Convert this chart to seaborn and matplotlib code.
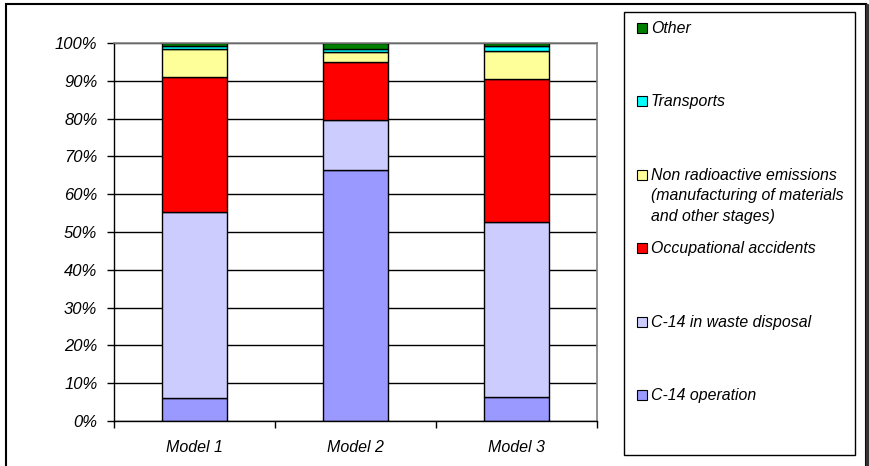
import matplotlib.pyplot as plt
import matplotlib.patches as mpatches
import numpy as np
import seaborn as sns

models = ['Model 1', 'Model 2', 'Model 3']
categories = ['C-14 operation', 'C-14 in waste disposal', 'Occupational accidents',
              'Non radioactive emissions\n(manufacturing of materials\nand other stages)',
              'Transports', 'Other']
c14_operation = [6.2, 66.3, 6.4]
c14_waste = [49.2, 13.3, 46.3]
occupational = [35.7, 15.3, 37.7]
non_radioactive = [7.3, 2.6, 7.5]
transports = [0.9, 0.8, 1.4]
other = [0.7, 1.7, 0.7]
colors = ['#9999FF', '#CCCCFF', '#FF0000', '#FFFF99', '#00FFFF', '#008000']

W, H = 869, 466


def fx(px):
    return px / W


def fy(py):
    return 1 - py / H


sns.set_style('white')
plt.rcParams['font.family'] = ['Liberation Sans', 'DejaVu Sans']
plt.rcParams['font.style'] = 'italic'
plt.rcParams['font.size'] = 11
for key in ['text.color', 'axes.labelcolor', 'xtick.color', 'ytick.color']:
    plt.rcParams[key] = 'black'

fig = plt.figure(figsize=(8.69, 4.66), dpi=100)
ax = fig.add_axes([fx(114), fy(421), fx(597) - fx(114), fy(43) - fy(421)])

series = [c14_operation, c14_waste, occupational, non_radioactive, transports, other]
bottom = np.zeros(len(models))
for name, vals, col in zip(categories, series, colors):
    sns.barplot(x=models, y=vals, bottom=bottom, color=col, saturation=1, width=0.4,
                edgecolor='black', linewidth=1, ax=ax)
    bottom = bottom + np.array(vals)

ax.set_xlim(-0.5, 2.5)
ax.set_ylim(0, 100)
ax.set_yticks(range(0, 101, 10))
ax.set_yticklabels([f'{v}%' for v in range(0, 101, 10)], fontsize=12)
ax.yaxis.grid(True, color='black', linewidth=1)
ax.set_axisbelow(True)
ax.set_xlabel('')
ax.set_ylabel('')
ax.tick_params(axis='y', left=True, length=5, width=1, pad=7, color='black')
ax.set_xticks([0, 1, 2])
ax.set_xticklabels(models, fontsize=11.5)
ax.set_xticks([-0.5, 0.5, 1.5, 2.5], minor=True)
ax.tick_params(axis='x', which='major', length=0, pad=14)
ax.tick_params(axis='x', which='minor', bottom=True, length=5, width=1, color='black')
for s in ['left', 'bottom']:
    ax.spines[s].set_color('black')
    ax.spines[s].set_linewidth(1)
for s in ['top', 'right']:
    ax.spines[s].set_color('#808080')
    ax.spines[s].set_linewidth(1.2)

# legend box drawn by hand, Excel style
fig.add_artist(mpatches.Rectangle((fx(624), fy(455)), fx(855) - fx(624), fy(12) - fy(455),
                                  transform=fig.transFigure, fill=False, edgecolor='black', lw=1))
legend_y = np.linspace(28, 395, 6)
for y, name, col in zip(legend_y, categories[::-1], colors[::-1]):
    fig.add_artist(mpatches.Rectangle((fx(637), fy(y + 5)), fx(10), 10 / H,
                                      transform=fig.transFigure, facecolor=col,
                                      edgecolor='black', lw=0.8))
    fig.text(fx(651), fy(y - 7), name, ha='left', va='top', fontsize=11.4, linespacing=1.45)

# outer chart border
fig.add_artist(mpatches.Rectangle((fx(6), fy(470)), fx(866) - fx(6), fy(4) - fy(470),
                                  transform=fig.transFigure, fill=False, edgecolor='black', lw=1.5))
fig.add_artist(plt.Line2D([fx(867), fx(867)], [fy(5), 0], transform=fig.transFigure,
                          color='#333333', lw=2.5))

fig.savefig('out.png', dpi=100)
